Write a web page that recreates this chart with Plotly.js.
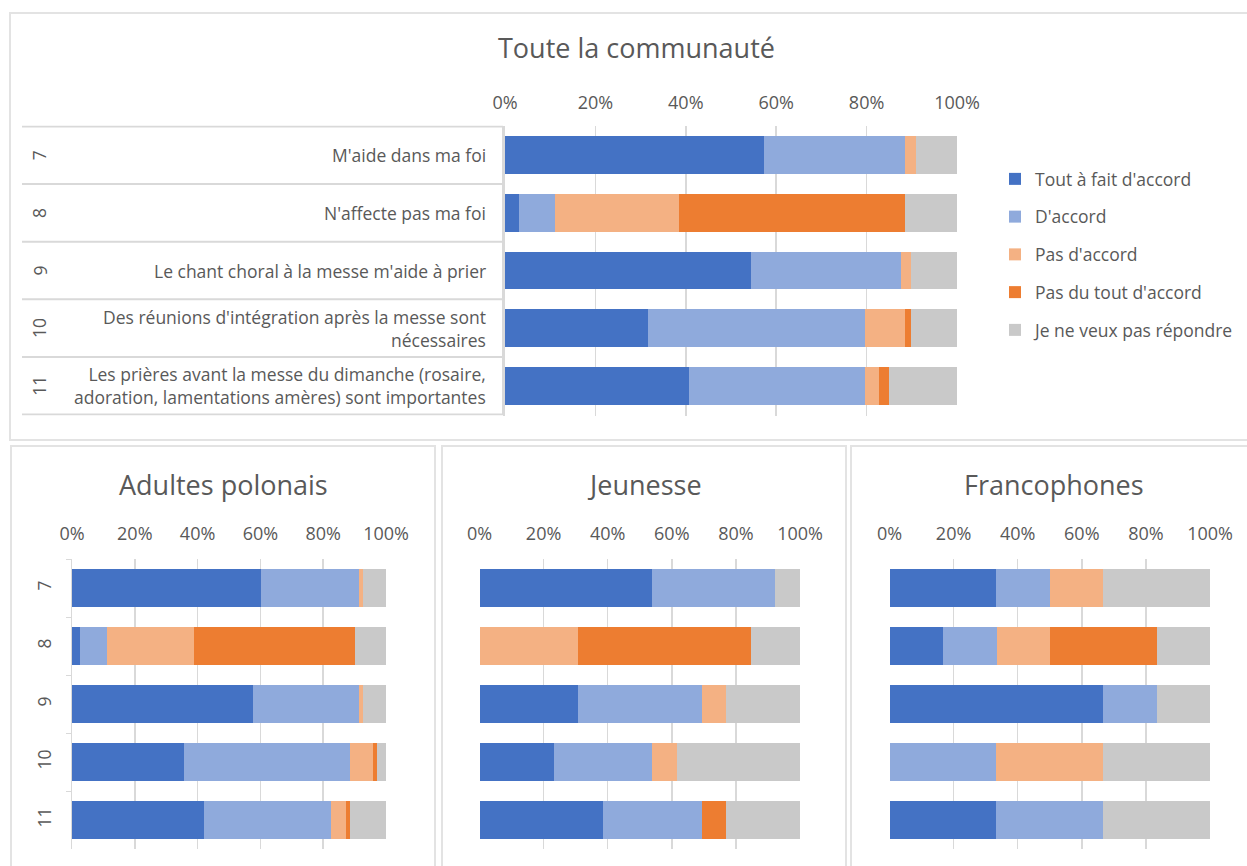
<!DOCTYPE html>
<html>
<head>
<meta charset="utf-8">
<script src="https://cdn.plot.ly/plotly-3.0.1.min.js"></script>
<style>html,body{margin:0;padding:0;background:#fff;}#chart{width:1247px;height:866px;}</style>
</head>
<body>
<div id="chart"></div>
<script>
// Categories (question numbers) and their statements
const questions = ['7', '8', '9', '10', '11'];
const statements = [
  "M'aide dans ma foi",
  "N'affecte pas ma foi",
  "Le chant choral à la messe m'aide à prier",
  "Des réunions d'intégration après la messe sont<br>nécessaires",
  "Les prières avant la messe du dimanche (rosaire,<br>adoration, lamentations amères) sont importantes"
];
const seriesNames = ["Tout à fait d'accord", "D'accord", "Pas d'accord", "Pas du tout d'accord", "Je ne veux pas répondre"];
const tickValues = [0, 20, 40, 60, 80, 100];
const tickLabels = ['0%', '20%', '40%', '60%', '80%', '100%'];

// Toute la communauté (%)
const touteToutAFait  = [57.4, 3.2, 54.4, 31.7, 40.7];
const touteDaccord    = [31.2, 7.9, 33.1, 47.9, 38.9];
const toutePasDaccord = [2.3, 27.3, 2.3, 9.0, 3.2];
const toutePasDuTout  = [0, 50.2, 0, 1.2, 2.2];
const touteSansReponse = [9.1, 11.4, 10.2, 10.2, 15.0];

// Adultes polonais (%)
const adultesToutAFait  = [60.2, 2.6, 57.8, 35.8, 42.1];
const adultesDaccord    = [31.2, 8.6, 33.6, 52.7, 40.3];
const adultesPasDaccord = [1.4, 27.5, 1.4, 7.3, 4.8];
const adultesPasDuTout  = [0, 51.3, 0, 1.3, 1.3];
const adultesSansReponse = [7.2, 10.0, 7.2, 2.9, 11.5];

// Jeunesse (%)
const jeunesseToutAFait  = [53.8, 0, 30.8, 23.1, 38.5];
const jeunesseDaccord    = [38.5, 0, 38.5, 30.8, 30.8];
const jeunessePasDaccord = [0, 30.8, 7.7, 7.7, 0];
const jeunessePasDuTout  = [0, 53.8, 0, 0, 7.7];
const jeunesseSansReponse = [7.7, 15.4, 23.1, 38.5, 23.1];

// Francophones (%)
const francoToutAFait  = [33.3, 16.7, 66.7, 0, 33.3];
const francoDaccord    = [16.7, 16.7, 16.7, 33.3, 33.3];
const francoPasDaccord = [16.7, 16.7, 0, 33.3, 0];
const francoPasDuTout  = [0, 33.3, 0, 0, 0];
const francoSansReponse = [33.3, 16.7, 16.7, 33.3, 33.3];

const colors = ['#4472C4', '#8FAADC', '#F4B183', '#ED7D31', '#C9C9C9'];
const textColor = '#595959';
const gridColor = '#D9D9D9';
const FONT = '"Open Sans", Lato, sans-serif';

const groups = [
  {ax: '', title: 'Toute la communauté', data: [touteToutAFait, touteDaccord, toutePasDaccord, toutePasDuTout, touteSansReponse], legend: true},
  {ax: '2', title: 'Adultes polonais', data: [adultesToutAFait, adultesDaccord, adultesPasDaccord, adultesPasDuTout, adultesSansReponse], legend: false},
  {ax: '3', title: 'Jeunesse', data: [jeunesseToutAFait, jeunesseDaccord, jeunessePasDaccord, jeunessePasDuTout, jeunesseSansReponse], legend: false},
  {ax: '4', title: 'Francophones', data: [francoToutAFait, francoDaccord, francoPasDaccord, francoPasDuTout, francoSansReponse], legend: false}
];

const traces = [];
groups.forEach(g => {
  g.data.forEach((vals, i) => {
    traces.push({
      type: 'bar', orientation: 'h',
      x: vals, y: questions,
      name: seriesNames[i],
      legendgroup: 'g' + i,
      showlegend: g.legend,
      marker: {color: colors[i], line: {width: 0}},
      xaxis: 'x' + g.ax, yaxis: 'y' + g.ax,
      hoverinfo: 'x+name'
    });
  });
});

const W = 1247, H = 866;
const px = v => v / W;
const py = v => 1 - v / H;

function xAxis(domain, anchor, standoff) {
  return {
    domain: domain, anchor: anchor, range: [0, 100], side: 'top',
    tickvals: tickValues, ticktext: tickLabels,
    showgrid: true, gridcolor: gridColor, gridwidth: 1.5,
    zeroline: false, showline: false, ticks: '',
    ticklabelstandoff: standoff,
    tickfont: {family: FONT, size: 18, color: textColor},
    fixedrange: true
  };
}
function yAxis(domain, anchor, opts) {
  return Object.assign({
    domain: domain, type: 'category', categoryarray: questions, categoryorder: 'array',
    autorange: 'reversed', anchor: anchor,
    showgrid: false, zeroline: false,
    tickfont: {family: FONT, size: 17.5, color: textColor},
    fixedrange: true
  }, opts);
}

const botDomain = [py(849), py(559)];

const layout = {
  width: W, height: H,
  margin: {l: 0, r: 0, t: 0, b: 0},
  paper_bgcolor: '#fff', plot_bgcolor: 'rgba(0,0,0,0)',
  barmode: 'stack', bargap: 0.345,
  font: {family: FONT, color: textColor},
  showlegend: true,
  legend: {
    x: px(995), y: py(161), xanchor: 'left', yanchor: 'top',
    font: {family: FONT, size: 17.5, color: textColor},
    tracegroupgap: 12, traceorder: 'grouped', itemwidth: 30
  },
  xaxis: xAxis([px(505), px(957)], 'y', 12),
  yaxis: yAxis([py(415.5), py(125.5)], 'x', {showline: true, linecolor: gridColor, linewidth: 2, ticks: 'outside', tickson: 'boundaries', ticklen: 5, tickcolor: gridColor, showticklabels: false}),
  xaxis2: xAxis([px(72), px(386)], 'y2', 14),
  yaxis2: yAxis(botDomain, 'x2', {showline: true, linecolor: gridColor, linewidth: 1.5, ticks: 'outside', tickson: 'boundaries', ticklen: 5, tickcolor: gridColor, tickangle: -90, ticklabelstandoff: 13}),
  xaxis3: xAxis([px(479.5), px(800)], 'y3', 14),
  yaxis3: yAxis(botDomain, 'x3', {showticklabels: false, showline: false}),
  xaxis4: xAxis([px(889.5), px(1210)], 'y4', 14),
  yaxis4: yAxis(botDomain, 'x4', {showticklabels: false, showline: false}),
  annotations: [],
  shapes: []
};

// Titles
const titlePos = [[636, 48], [223, 484], [644, 484], [1054, 484]];
groups.forEach((g, i) => {
  layout.annotations.push({
    text: g.title, xref: 'paper', yref: 'paper',
    x: px(titlePos[i][0]), y: py(titlePos[i][1]), xanchor: 'center', yanchor: 'middle',
    showarrow: false, font: {family: FONT, size: 27, color: textColor}
  });
});

// Statement table for the top chart (y given as category index)
questions.forEach((q, i) => {
  layout.annotations.push({
    text: statements[i], xref: 'paper', yref: 'y', x: px(488), y: i,
    xanchor: 'right', yanchor: 'middle', align: 'right', showarrow: false,
    font: {family: FONT, size: 17.5, color: textColor}
  });
  layout.annotations.push({
    text: q, xref: 'paper', yref: 'y', x: px(39), y: i, textangle: -90,
    xanchor: 'center', yanchor: 'middle', showarrow: false,
    font: {family: FONT, size: 17.5, color: textColor}
  });
});
for (let k = 0; k <= questions.length; k++) {
  layout.shapes.push({type: 'line', xref: 'paper', yref: 'y', x0: px(22), x1: px(503), y0: k - 0.5, y1: k - 0.5,
    line: {color: gridColor, width: 2}});
}
layout.shapes.push({type: 'line', xref: 'paper', yref: 'y', x0: px(503), x1: px(503), y0: -0.5, y1: questions.length - 0.5,
  line: {color: gridColor, width: 2}});

// Panel borders
const panels = [[10, 13, 1252, 440], [11, 446, 435, 875], [442, 446, 846, 875], [851, 446, 1252, 875]];
panels.forEach(p => {
  layout.shapes.push({type: 'rect', xref: 'paper', yref: 'paper', x0: px(p[0]), x1: px(p[2]), y0: py(p[1]), y1: py(p[3]),
    line: {color: '#E3E3E3', width: 2}, fillcolor: 'rgba(0,0,0,0)', layer: 'below'});
});

Plotly.newPlot('chart', traces, layout, {displayModeBar: false, staticPlot: true});
</script>
</body>
</html>
